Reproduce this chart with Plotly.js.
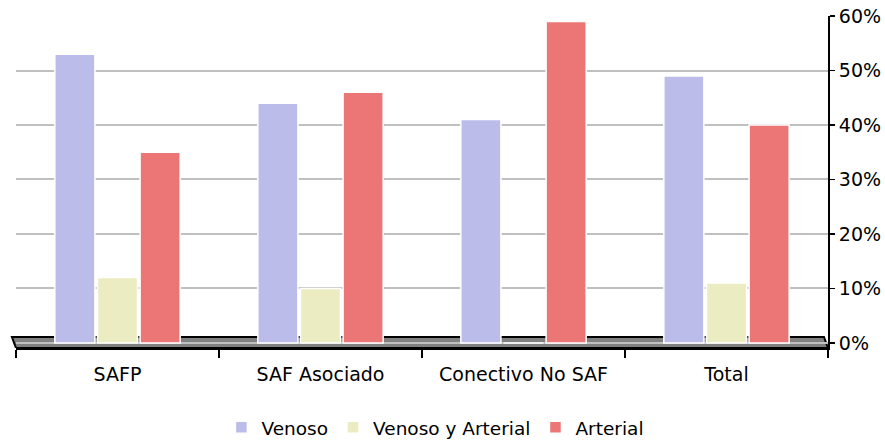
<!DOCTYPE html>
<html>
<head>
<meta charset="utf-8">
<script src="https://cdn.plot.ly/plotly-3.0.1.min.js"></script>
<style>
html,body{margin:0;padding:0;background:#fff;}
#chart{width:885px;height:441px;}
</style>
</head>
<body>
<div id="chart"></div>
<script>
const categories = ["SAFP", "SAF Asociado", "Conectivo No SAF", "Total"];
const venoso = [0.53, 0.44, 0.41, 0.49];
const venosoArterial = [0.12, 0.10, 0.00, 0.11];
const arterial = [0.35, 0.46, 0.59, 0.40];
const yTicks = [0, 0.1, 0.2, 0.3, 0.4, 0.5, 0.6];

const FONT = "DejaVu Sans";

function bar(name, vals, color) {
  return {
    type: "bar",
    name: name,
    x: categories,
    y: vals,
    marker: {color: color, line: {color: "#ffffff", width: 1.5}},
    hoverinfo: "none"
  };
}

const data = [
  bar("Venoso", venoso, "#bcbcea"),
  bar("Venoso y Arterial", venosoArterial, "#ececc2"),
  bar("Arterial", arterial, "#ec7676")
];

const layout = {
  width: 885,
  height: 441,
  margin: {l: 16, r: 57, t: 16, b: 93, autoexpand: false},
  paper_bgcolor: "#ffffff",
  plot_bgcolor: "rgba(0,0,0,0)",
  font: {family: FONT, size: 19, color: "#000000"},
  barmode: "group",
  bargap: 0.37,
  bargroupgap: 0.06,
  showlegend: true,
  legend: {
    orientation: "h",
    xref: "container",
    yref: "container",
    x: 0.492, xanchor: "center",
    y: 0.03, yanchor: "middle",
    font: {family: FONT, size: 18.5, color: "#000"},
    itemclick: false,
    itemwidth: 30,
    tracegroupgap: 0
  },
  xaxis: {
    type: "category",
    range: [-0.5, 3.5],
    showgrid: false,
    zeroline: false,
    showline: true,
    linecolor: "#000000",
    linewidth: 2,
    ticks: "outside",
    tickson: "boundaries",
    ticklen: 8,
    tickwidth: 1.5,
    tickcolor: "#000000",
    ticklabelstandoff: 8,
    tickfont: {family: FONT, size: 19, color: "#000"},
    fixedrange: true
  },
  yaxis: {
    side: "right",
    range: [-0.0092, 0.6],
    tickvals: yTicks,
    tickformat: ".0%",
    showgrid: true,
    gridcolor: "#c0c0c0",
    gridwidth: 2,
    zeroline: false,
    showline: true,
    linecolor: "#000000",
    linewidth: 2,
    ticks: "outside",
    ticklen: 5,
    tickwidth: 1.5,
    tickcolor: "#000000",
    tickfont: {family: FONT, size: 19, color: "#000"},
    fixedrange: true
  },
  shapes: [
    {
      type: "path",
      xref: "paper",
      yref: "y",
      path: "M 0,-0.0092 L 1,-0.0092 L 0.995,0.011 L -0.005,0.011 Z",
      fillcolor: "#808080",
      line: {color: "#000000", width: 2},
      layer: "between"
    }
  ]
};

Plotly.newPlot("chart", data, layout, {displayModeBar: false, staticPlot: true});
</script>
</body>
</html>
